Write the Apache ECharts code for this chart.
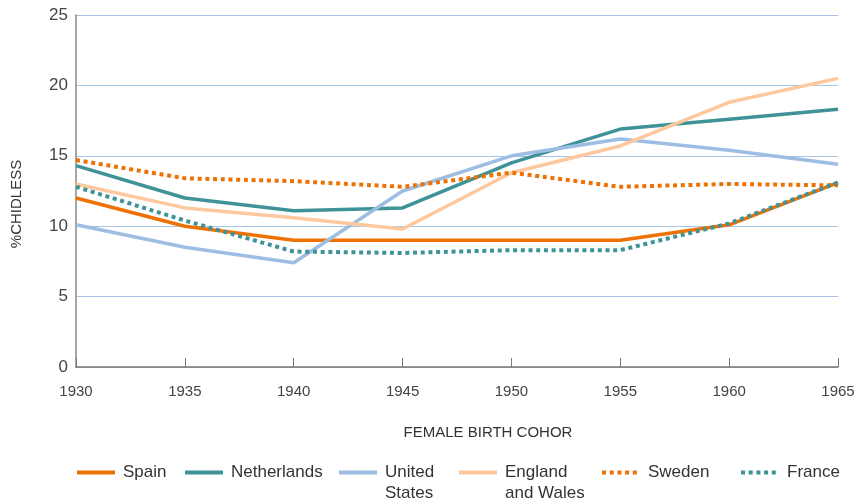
<!DOCTYPE html>
<html>
<head>
<meta charset="utf-8">
<script src="https://cdn.jsdelivr.net/npm/echarts@6/dist/echarts.min.js"></script>
<style>
  html, body { margin: 0; padding: 0; background: #fff; }
  #chart { width: 858px; height: 504px; }
</style>
</head>
<body>
<div id="chart"></div>
<script>
  var cohorts = ['1930', '1935', '1940', '1945', '1950', '1955', '1960', '1965'];

  var spain       = [12.0, 10.0, 9.0, 9.0, 9.0, 9.0, 10.1, 13.1];
  var netherlands = [14.3, 12.0, 11.1, 11.3, 14.5, 16.9, 17.6, 18.3];
  var unitedStates = [10.1, 8.5, 7.4, 12.5, 15.0, 16.2, 15.4, 14.4];
  var england     = [13.0, 11.3, 10.6, 9.8, 13.8, 15.7, 18.8, 20.5];
  var sweden      = [14.7, 13.4, 13.2, 12.8, 13.8, 12.8, 13.0, 12.9];
  var france      = [12.8, 10.4, 8.2, 8.1, 8.3, 8.3, 10.2, 13.1];

  var font = 'Liberation Sans';

  function makeLine (name, data, color, dotted) {
    return {
      name: name,
      type: 'line',
      data: data,
      symbol: 'none',
      z: dotted ? 3 : 2,
      lineStyle: {
        color: color,
        width: dotted ? 4 : 3.5,
        type: dotted ? [4, 3.7] : 'solid',
        cap: 'butt'
      },
      itemStyle: { color: color }
    }
  }

  // one legend per item so each sits where the original puts it.
  // two-line labels get an empty first line so the icon lines up with the top line
  function makeLegend (name, label, left, twoLines) {
    return {
      data: [name],
      left: left,
      top: twoLines ? 441 : 462,
      padding: 0,
      itemWidth: 38,
      itemHeight: 14,
      lineStyle: { width: 4 },
      itemStyle: { opacity: 0, borderWidth: 0 },
      selectedMode: false,
      formatter: function () { return twoLines ? ' \n' + label : label },
      textStyle: {
        fontFamily: font,
        fontSize: 17,
        color: '#333',
        lineHeight: 21,
        padding: [0, 0, 0, 3]
      }
    }
  }

  var chart = echarts.init(document.getElementById('chart'));
  chart.setOption({
    animation: false,
    backgroundColor: '#fff',
    grid: { left: 76, right: 20, top: 15, bottom: 137 },
    legend: [
      makeLegend('Spain', 'Spain', 75, false),
      makeLegend('Netherlands', 'Netherlands', 183, false),
      makeLegend('United States', 'United\nStates', 337, true),
      makeLegend('England and Wales', 'England\nand Wales', 457, true),
      makeLegend('Sweden', 'Sweden', 600, false),
      makeLegend('France', 'France', 739, false)
    ],
    xAxis: {
      type: 'category',
      data: cohorts,
      boundaryGap: false,
      name: 'FEMALE BIRTH COHOR',
      nameLocation: 'middle',
      nameGap: 58,
      nameTextStyle: {
        fontFamily: font,
        fontSize: 15,
        color: '#333',
        padding: [0, 0, 0, 62]
      },
      axisLine: { lineStyle: { color: '#777', width: 1.5 } },
      axisTick: { inside: true, length: 9, lineStyle: { color: '#777' } },
      axisLabel: {
        fontFamily: font,
        fontSize: 15,
        color: '#444',
        margin: 17
      },
      splitLine: { show: false }
    },
    yAxis: {
      type: 'value',
      min: 0,
      max: 25,
      interval: 5,
      name: '%CHIDLESS',
      nameLocation: 'middle',
      nameRotate: 90,
      nameGap: 52,
      nameTextStyle: {
        fontFamily: font,
        fontSize: 15,
        color: '#333',
        padding: [0, 26, 0, 0]
      },
      axisLine: { show: true, lineStyle: { color: '#888', width: 1.5 } },
      axisTick: { show: false },
      axisLabel: {
        fontFamily: font,
        fontSize: 17,
        color: '#444',
        margin: 8
      },
      splitLine: { lineStyle: { color: '#a6c4e6', width: 1 } }
    },
    series: [
      makeLine('Spain', spain, '#ee7203', false),
      makeLine('Netherlands', netherlands, '#3f9398', false),
      makeLine('United States', unitedStates, '#9dbde3', false),
      makeLine('England and Wales', england, '#fdc89e', false),
      makeLine('Sweden', sweden, '#ee7203', true),
      makeLine('France', france, '#3f9398', true)
    ]
  });
</script>
</body>
</html>
